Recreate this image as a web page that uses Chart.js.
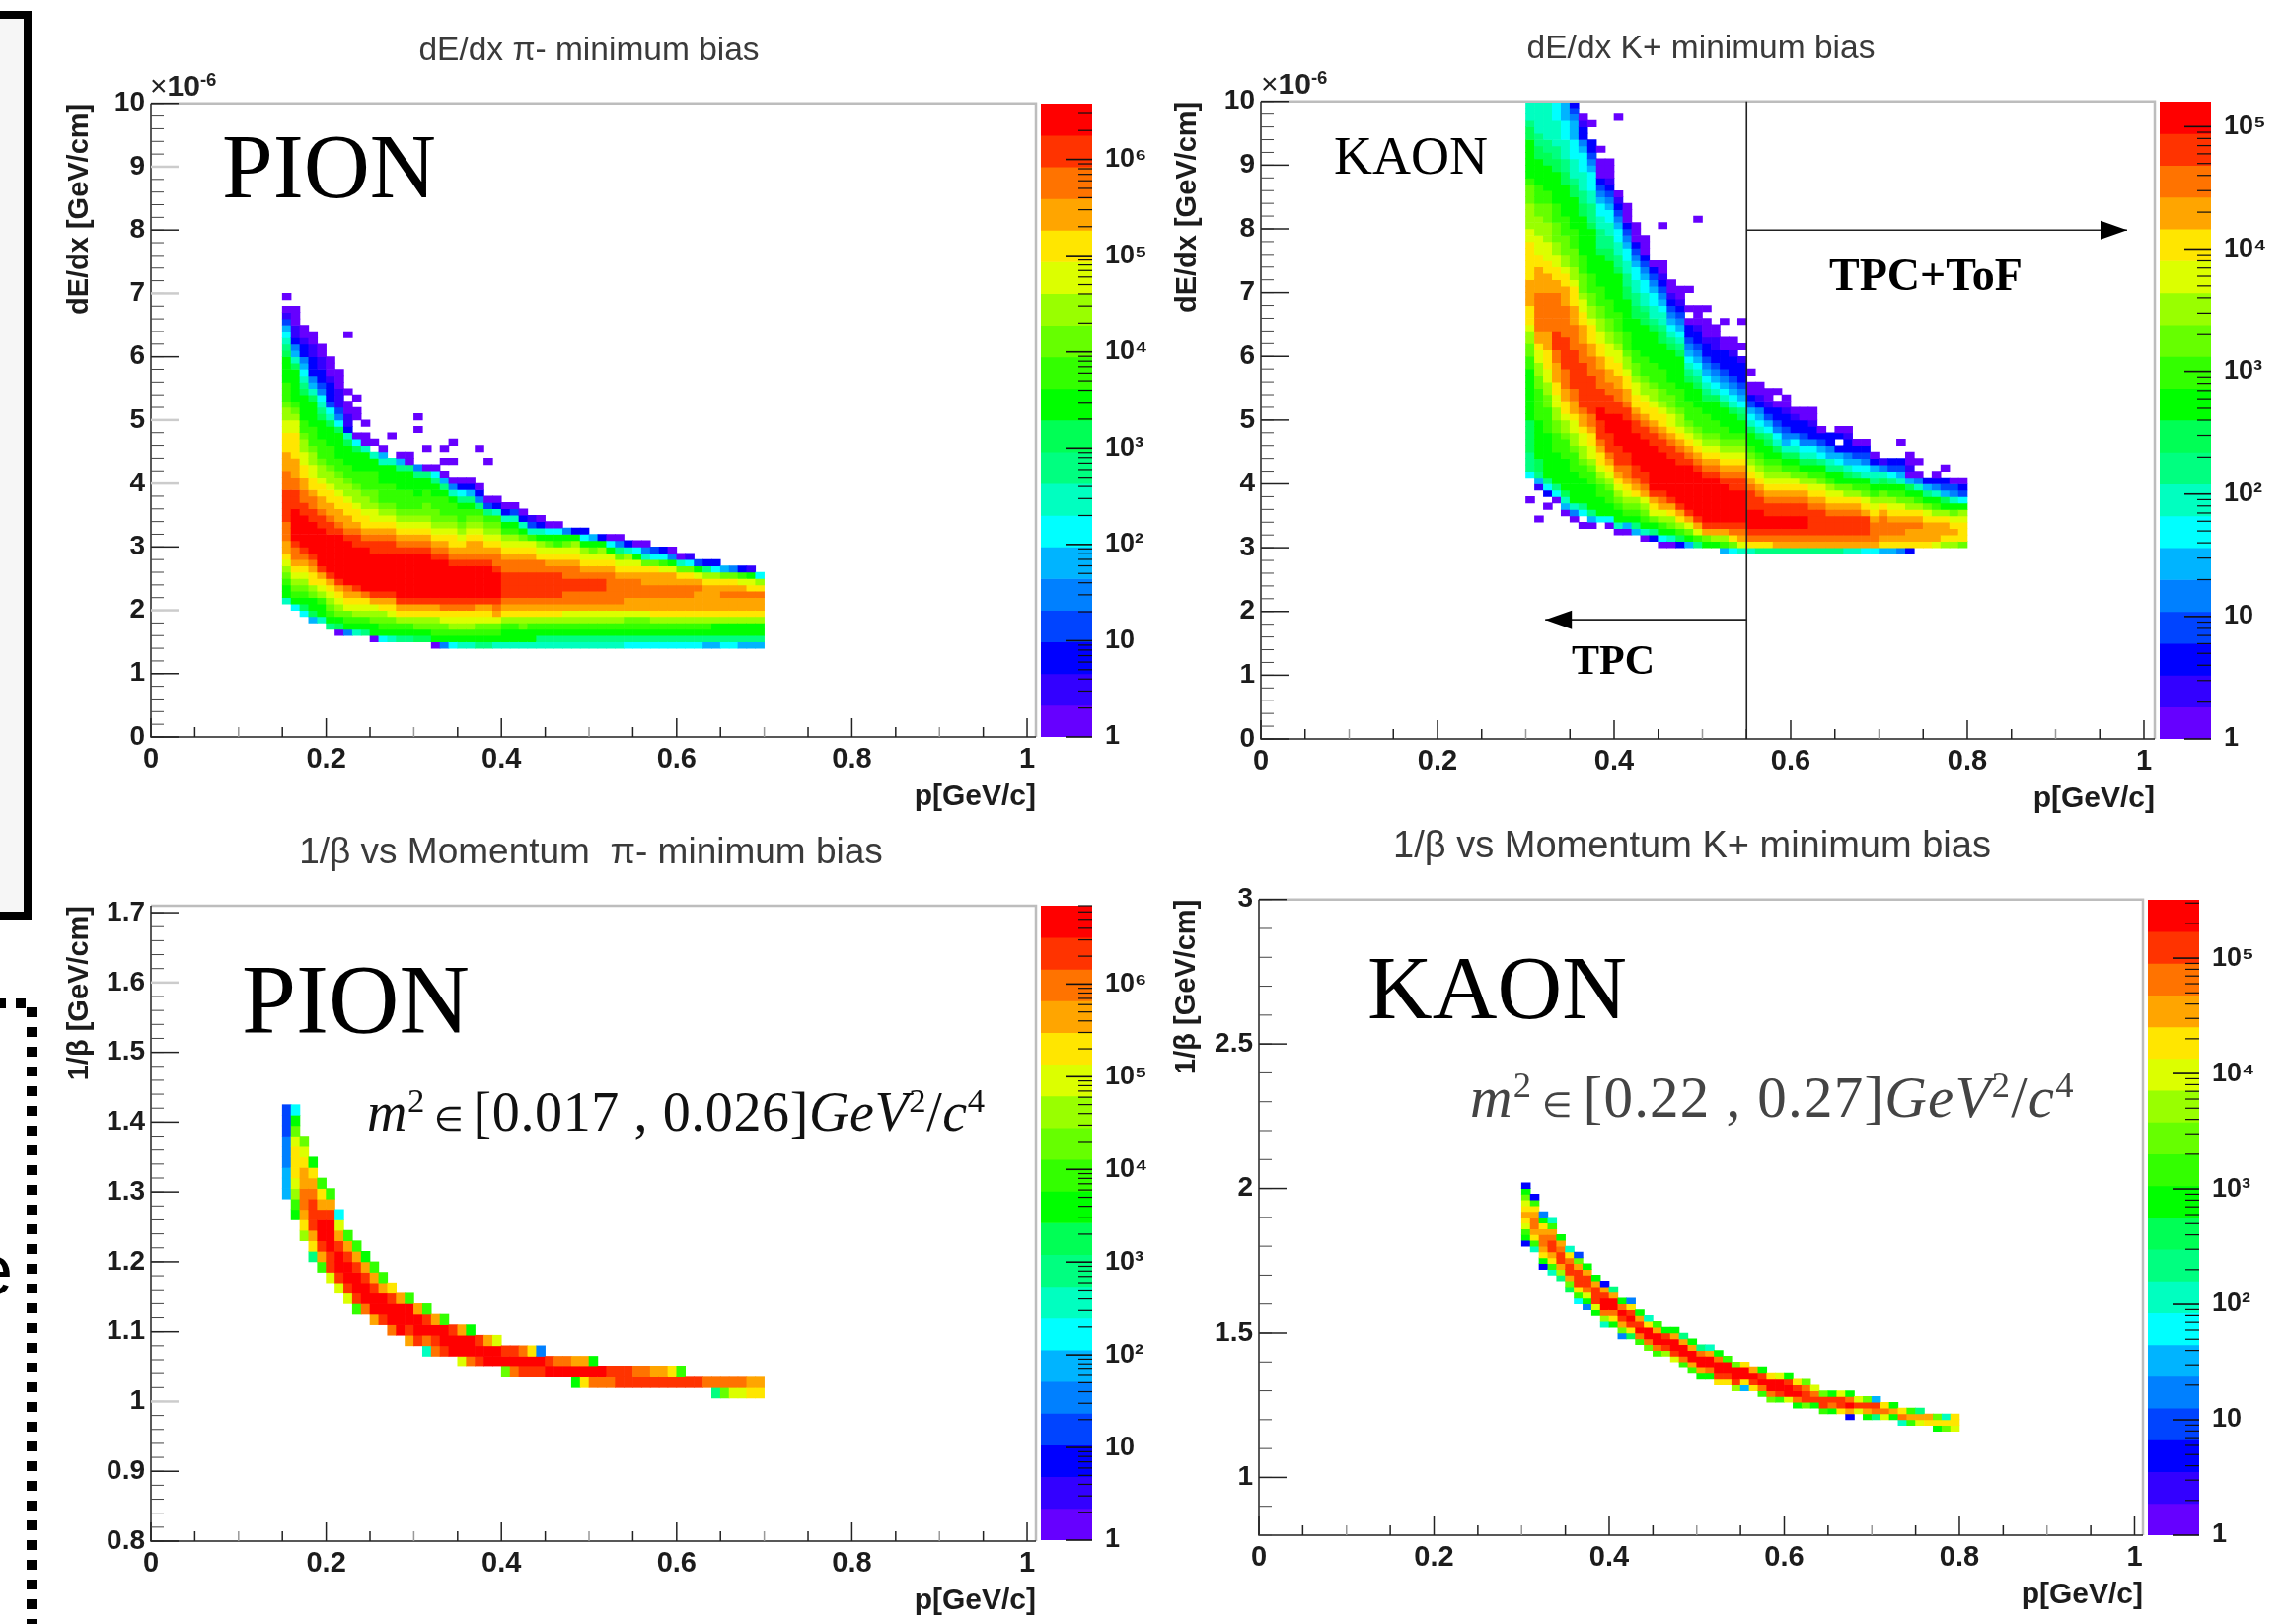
<!DOCTYPE html>
<html><head><meta charset="utf-8">
<style>
html,body{margin:0;padding:0;background:#fff;width:2317px;height:1646px;overflow:hidden}
canvas{position:absolute;filter:blur(.45px)}
.t{position:absolute;white-space:nowrap;line-height:normal}
.t sup{font-size:.62em;line-height:0;vertical-align:.55em}
</style>
<script src="https://cdn.jsdelivr.net/npm/chart.js@4/dist/chart.umd.min.js"></script>
</head><body>
<div style="position:absolute;left:-10px;top:11px;width:26px;height:905px;border:8px solid #000;background:#f6f6f6"></div>
<div style="position:absolute;left:-4px;top:1012px;width:31px;height:10px;background:repeating-linear-gradient(90deg,#000 0 10px,transparent 10px 20px)"></div>
<div style="position:absolute;left:27px;top:1021px;width:10px;height:625px;background:repeating-linear-gradient(180deg,#000 0 10px,transparent 10px 20px)"></div>
<script>
// Colour contours of the ROOT palette, lowest count to highest. Letters a..t in the cell strings index this list.
const paletteColors=["#6600ff","#3300ff","#0000ff","#0044ff","#0080ff","#00b4ff","#00ffff","#00ffc0","#00ff80","#00ff55","#00ff00","#33ff00","#66ff00","#99ff00","#dcff00","#ffe600","#ffa500","#ff7300","#ff3300","#ff0000"];
const zTickLabels=["1","10","10²","10³","10⁴","10⁵","10⁶"];
const pTickValues=[0,0.2,0.4,0.6,0.8,1];
const dedxTickValues=[0,1,2,3,4,5,6,7,8,9,10];
const pionBetaTickValues=[0.8,0.9,1,1.1,1.2,1.3,1.4,1.5,1.6,1.7];
const kaonBetaTickValues=[1,1.5,2,2.5,3];

// Each histogram: one string per momentum column, bottom to top, one letter per y bin ("." = empty bin, spaces ignored).
const pionDedxStart=[21,20,19,18,18,17,16,16,16,16,15,15,15,15,15,15,15,14,14,14,14,14,14,14,14,14,14,14,14,14,14,14,14,14,14,14,14,14,14,14,14,14,14,14,14,14,14,14,14,14,14,14,14,14,14];
const pionDedxCols=[
"hkklmnopqqrrr sssss rrr qqq ppp oo nn m lll kkkk j i h g f d b a . a",
"gklmnopqrrs ttttt sss rr qqq pppp oo n m l kkkkk j h f e c bb aaa",
"gjklmnopqrs ttttt ss rr qq pp oo nn m ll kkkk j i h g f e cc b aa",
"fjkkmnppqrs ttttt ss rr q pp oo nn m lll kkkk j h f e ccc bb aa",
"hkklnopqs tttttt ss r qq pp o nn m lll kkk j i h g e d cc bb aa",
"iklmnopqs tttttt ss r qq pp o nn m lll kkk j h g d ccc b aaa",
"ajkmnopqs ttttttt s r qq pp o nn m ll kkkk j g e d bbb aaa",
"eklmopqr ttttttt s r qq pp o nn m ll kkk j h c bb aa . a ........ a",
"hklnopqs tttttt ss r q pp o nn m ll kkk j g a .. aa . a",
"iklnopr ttttttt s r q pp o nn m lll kkk h aa . a",
"akkmnoqs tttttt ss r q p oo n mm lll kk h . a",
"gklmnpqs tttttt ss r q p o n m lll kkk h f a",
"hklmopqs tttttt ss r q p o n m lll kkk h ... a",
"iklnpqs ttttttt s r q p o n m lll kkk i f a",
"iklnpqs ttttttt s r q p o n m lll kkk i aa",
"jkmnpqs ttttttt s r q p o n m ll kkk i e ..... a . a",
"jkmnpqs ttttttt s r q p o n mm ll kk i a .. a",
"aklmnpqs tttttt s r q p o n mm ll kk i g a",
"eklmoprs tttttt s r q p o n m lll k i f a . a . a",
"gklnoprs ttttt s r q pp o n m ll k h e a .. a .. a",
"hklnoprs ttttt s r q p o n m ll k i g c a",
"hklnoprs ttttt s r qq p o n m l k i f c a",
"iklmopqs ttttt s r qq p o n m l i e c a ..... a",
"iklmopqs ttttt s r q p o n m l i d a ..... a",
"hklmoqrs tttt s rr q p o n m l h c a",
"hkklnpqrssssrrqponlkhca",
"hkklnpqrssssrrqponlkhda",
"hkkmnpqrssssrrqpomkhca",
"hkklnpqrssssrrqpolhdb",
"hiklnpqrssssrrponkhca",
"hiklnpqrssssrqpomkga",
"hiklnpqrssssrqpolkga",
"hiklnoqrrssrrqpomke",
"hiklnoqrrssrrqponkc",
"hiklnoqrrssrqponkgc",
"hiklnoqrrssrqpomkf",
"hiklnoqrrssrqponkc",
"hiklnoqrrrrrqpokga",
"hiklnoqrrrrqpomiea",
"giklmoqqrrrqponhc",
"giklmoqqrrrqpokga",
"giklmoqqrrqqpmhea",
"giklnpqqrrqqpmgd",
"giklnpqqrrqqolgc",
"giklnpqqrrqqokea",
"giklnpqqrrqpmha",
"giklnpqqrrqpmgb",
"giklnpqqqrqokd",
"fiklnpqqqqpnic",
"fikknpqqqqpngc",
"gikknpqqrqpmf",
"gikknpqqrqpme",
"fikknpqqrqolc",
"fikknpqqrpokb",
"fikknpqqrpng"];

const kaonDedxStart=[37,34,36,37,35,34,33,33,34,33,32,32,32,31,31,30,30,30,30,30,30,30,29,29,29,29,29,29,29,29,29,29,29,29,29,29,29,29,29,29,29,29,29,29,30,30,30,30,30,30];
const kaonDedxCols=[
"a ... g iii jjjjj kkkkkkkk ll mm nn o ppp qqqq pppppp oo nnnn mmm l kkkkkk jj i hhh",
"a .... b f i jj kkkkkk lllll mm nn oo p qq rrrrrr qqqq pp ooo nnn mm lll kkkk jj ii hhhhh",
"a . c g i kkkkkkk llll mm nn oo ppp qqq rrrrrr qqq pp ooo nnn mmm ll kkkk jj ii hhhhhh",
"a g i kkkkk lll mm nn oo pp qqq rr sss rrrrrr qq pp oo nn mmm lll kkkkk jj ii hhhh ggg",
"a f h j kkkkk lll m nn o pp qq rrr sssss rrrrr qqq pp o nn mmm lll kkkkk jj ii hhh ggg fff",
"a e h kkkkk lll m nn oo p qq rr ssssss rrrr qqq ppp o nn mmm lll kkkkk jj i hhh ggg fff e d c",
"a . g i kkkk ll m nn oo p qq r sssssss rrr qqq pp oo n mmm lll kkkkkk jj ii hhh ggg f e cc b a",
"a f i kkkk ll m n oo pp q rr ssssss rrr qq ppp o nn mm lll kkkkkkk j iii hh ggg f e d cc .. a",
"g kkk ll m n o pp q r sss tt sss rrr qq pp oo nn mm lll kkkkk j iii hh gg f e d c aaa . a",
"a g kk ll m n o p q r sss ttt sss rr qq pp oo nn mm lll kkkkkk jj ii hh gg f e d c b aaa",
"a h kk l m n o p q r sss ttttt ss rr qq pp oo n mm lll kkkkkk j ii hh gg f e d c b a ........... a",
"a f k l m n o p q rr ss ttttt ss r qq pp o nn m lll kkkkk jj ii hh gg f e d c aaa",
"f i k l m n p q r ss ttttt ss r q pp oo n mm ll kkkkk jj ii hh gg f e d c aaa",
"a h k l m n o q r ss ttttt ss r q pp o nn m lll kkkkk jj i hh gg f e d c aaa",
"c i k m o p q s ttttttt ss r q pp o nn m lll kkkkk j i hh gg f e d c a",
"a g k l n o q r s tttttt ss r q pp o n mm lll kkkk jj i hh g f e d c b aa ..... a",
"a h k m n p q s tttttt ss r q p oo n mm ll kkkkk j i h g f e d c b aa",
"c j l n p q s tttttt ss r q p o nn m lll kkkkk j i h g f e d c b aa",
"f k m o q s ttttttt s r q p o n m lll kkk j i h g f e d cc a . a .. a",
"i l o q s ttttttt s r q p o n m lll kkk j i h g f e d cc b aaa ............. a",
"k m q s ttttttt s r q p o n m lll kk j i h g f e d cc b aaa . a",
"k n q s ttttttt s r q p o n m ll kkk j h g f e d cc bb aa",
"f l n q s tttttt s r q p o n m ll kkk j h g f e d ccc aa .. a",
"g m p r s ttttt ss r q p o n m l kkk j h g f e d ccc b aa",
"h o q r s ttttt ss r q p o n m l kk j i g f e d ccc b . a ... a",
"h p r s ttt sss r q p o n m l kk j h g f d c aa . a",
"i p r s ttt ss r q p o n m l kk j h g f e c b aa",
"i p r s tt ss r q p o n m l kk j i g f d c b aa",
"i q r s tt ss r q p o n m l k j h g e d cc a . a",
"i q r s tt ss r q p o n l k j h f e d cc b a a",
"i q r s tt ss r q p o m l k j h g e cc b a",
"i q r s tt ss r q p n m k j h g e d cc aa",
"i q r ssss r q p o n l k j h g e cc b aa",
"i q r ssss r q p o m l k i g f d c a",
"i q r sss r q p o n l k i h f e cc",
"i q r sss r q p o m kk i g f c . c a",
"h q r sss r q p n m k j h f e cc b a",
"h q r sss r q p n l k i g f d c a",
"g q r sss q p o m l k h g e d c a",
"g q rrr q p o n l k i h f c a",
"f p q rrr q p n m k j h e b",
"f p q rr q p o n l k i g d c",
"e p q rr q p o m l k h f d c .. a",
"c p qq r q p n m k j f a b a a",
"p qq r q p n l k h e a . a",
"p qqq p o m k i f c",
"o qqq p n l k h e c a",
"n p qq p n k j f d c . a",
"n p q p o m k h e d a",
"m ppp o n k g d c a"];

const pionBetaStart=[19,17,15,13,12,11,10,9,8,8,7,7,6,6,5,5,4,4,4,4,3,3,3,3,3,2,2,2,2,2,2,2,2,1,1,1,1,1,1,1,1,1,1,1,1,1,1,1,1,0,0,0,0,0,0];
const pionBetaCols=["fff eee ddd","klnopppomkg","npqrrqqpom","ipqsssrqpk","lqsttsqpl","osstttsql","osttsqog","osttsql","lsttsql","rttsqk","qttsql","sttql","rttsp","tttq","qsttl","sttq","hrtsl","rstq","sttl","tts","ottq","rttk","sts","ttq","tto","mts","rts","str","stp","ste","ts","tr","tr","ktq","ptq","rtk","rt","rs","ss","ss","sr","sr","sq","sq","sp","sl","s","s","r","ir","mr","or","or","pq","pq"];

const kaonBetaStart=[40,39,36,35,34,32,30,29,28,26,26,24,24,23,22,21,21,20,19,18,17,17,16,16,15,15,15,14,13,13,13,12,12,12,11,11,11,10,11,10,10,10,10,9,9,9,9,8,8,8];
const kaonBetaCols=["cklopqpomkc","hlpqrrqplc","ckpqrrqpke","hlpqssrqlh","inqssrqk","jmqssrph","glpsssqmd","ekorssqk","kosssqk","hnrttsqc","kprttqi","emqstrk","jpstspe","lrtsqk","mrttph","lrttql","nstsk","osttqk","lrttqi","lqttqk","kqttri","krttqh","psttrk","psttl","nsttm","fpttp","pstq","lrtsk","mrttp","lstto","ottsk","krtsp","mssrm","ksro","lssm","krsk","psso","cqtrk","oso","kqsm","irsf","orp","kqk","hrp","lql","oqi","pq","kpm","mph","opp"];

const cellsFrom=(starts,cols,x0,dx,y0,dy)=>{
  const out=[];
  cols.forEach((s,i)=>{
    [...s.replace(/ /g,"")].forEach((ch,k)=>{
      if(ch==="."||paletteColors[ch.charCodeAt(0)-97]===undefined)return;
      const r=starts[i]+k;
      out.push({x:x0+dx*(i+.5),y:[y0+dy*r,y0+dy*(r+1)],level:ch.charCodeAt(0)-97});
    });
  });
  return out;
};
const range=(a,b,s)=>{const o=[];for(let v=a;v<=b+1e-9;v+=s)o.push(+v.toFixed(4));return o;};

const frame={id:"frame",afterDatasetsDraw(ch,_,o){
  const c=ch.ctx,a=ch.chartArea,xs=ch.scales.x,ys=ch.scales.y;
  c.save();
  c.strokeStyle="#bdbdbd";c.lineWidth=2.5;
  c.beginPath();c.moveTo(a.left,a.top);c.lineTo(a.right,a.top);c.lineTo(a.right,a.bottom);c.stroke();
  c.strokeStyle="#222";c.lineWidth=1.5;
  c.beginPath();c.moveTo(a.left,a.top);c.lineTo(a.left,a.bottom);c.lineTo(a.right,a.bottom);c.stroke();
  c.lineWidth=1.5;
  range(0,1,.05).forEach(v=>{
    const maj=pTickValues.includes(v),x=xs.getPixelForValue(v);
    c.strokeStyle=(Math.round(v*20)%2===0&&!maj)?"#999":"#222";
    c.beginPath();c.moveTo(x,a.bottom);c.lineTo(x,a.bottom-(maj?19:10));c.stroke();
  });
  o.yMinor.forEach(v=>{const y=ys.getPixelForValue(v);c.strokeStyle="#444";c.lineWidth=1;c.beginPath();c.moveTo(a.left,y);c.lineTo(a.left+13,y);c.stroke();});
  o.yMajor.forEach(v=>{const y=ys.getPixelForValue(v);const f=o.faded.includes(v);c.strokeStyle=f?"#ccc":"#222";c.lineWidth=f?2.5:1.5;c.beginPath();c.moveTo(a.left,y);c.lineTo(a.left+28,y);c.stroke();});
  if(o.guides){
    c.strokeStyle="#222";c.fillStyle="#000";c.lineWidth=1.6;
    const X=o.guides.cutP,px=xs.getPixelForValue(X);
    c.beginPath();c.moveTo(px,a.top);c.lineTo(px,a.bottom);c.stroke();
    o.guides.arrows.forEach(g=>{
      const x1=xs.getPixelForValue(g.p1),y=ys.getPixelForValue(g.y),d=x1>px?-1:1;
      c.beginPath();c.moveTo(px,y);c.lineTo(x1,y);c.stroke();
      c.beginPath();c.moveTo(x1,y);c.lineTo(x1+d*27,y-9.5);c.lineTo(x1+d*27,y+9.5);c.closePath();c.fill();
    });
  }
  c.restore();
}};
const barTicks={id:"barTicks",afterDatasetsDraw(ch,_,o){
  const c=ch.ctx,a=ch.chartArea,ys=ch.scales.y;
  c.save();c.strokeStyle="#111";
  ys.ticks.forEach(t=>{
    const y=ys.getPixelForValue(t.value),m=t.isMajor;
    c.lineWidth=m?1.6:1.2;
    c.beginPath();c.moveTo(a.right,y);c.lineTo(a.right-(m?27:14),y);c.stroke();
  });
  c.restore();
}};

function addCanvas(l,t,w,h){const e=document.createElement("canvas");e.width=w;e.height=h;e.style.left=l+"px";e.style.top=t+"px";e.style.width=w+"px";e.style.height=h+"px";document.body.appendChild(e);return e;}
const sans='"Liberation Sans",Arial,sans-serif',serif='"Liberation Serif","Times New Roman",serif';

function panel(g){
  const halfW=540,CL=g.titleX-halfW,Y0=g.titleY-g.titleSize/2-2,H=84,W=halfW*2;
  const canvH=Math.round(g.B+H-Y0);
  const xTitleSize=30,rightGap=CL+W-g.R;
  new Chart(addCanvas(CL,Y0,W,canvH),{
    type:"bar",
    data:{datasets:[{data:g.cells,backgroundColor:c=>paletteColors[c.raw.level],borderWidth:0,barThickness:g.cellPx}]},
    plugins:[frame],
    options:{
      responsive:false,animation:false,devicePixelRatio:1,
      layout:{autoPadding:false,padding:0},
      plugins:{
        legend:{display:false},tooltip:{enabled:false},
        title:{display:true,text:g.title,color:"#3a3a3a",font:{family:sans,size:g.titleSize,weight:"normal",lineHeight:1},padding:{top:2,bottom:g.T-Y0-g.titleSize-2}},
        frame:{yMajor:g.yTicks,yMinor:g.yMinor,faded:g.faded,guides:g.guides}
      },
      scales:{
        x:{type:"linear",offset:false,min:0,max:g.xMax,grid:{display:false,drawTicks:false},border:{display:false},
          afterBuildTicks:s=>{s.ticks=pTickValues.map(v=>({value:v}));},
          afterFit:s=>{s.height=H;},
          ticks:{autoSkip:false,maxRotation:0,padding:6,color:"#1c1c1c",font:{family:sans,size:29,weight:"bold"},callback:v=>String(v)},
          title:{display:true,text:"p[GeV/c]",align:"end",color:"#1c1c1c",font:{family:sans,size:xTitleSize,weight:"bold",lineHeight:1},padding:{top:0,bottom:H-61-xTitleSize/2}}},
        y:{type:"linear",min:g.yMin,max:g.yMax,grid:{display:false,drawTicks:false},border:{display:false},
          afterBuildTicks:s=>{s.ticks=g.yTicks.map(v=>({value:v}));},
          afterFit:s=>{s.width=g.L-CL;},
          ticks:{autoSkip:false,padding:6,color:"#1c1c1c",font:{family:sans,size:28,weight:"bold"},callback:v=>String(v)},
          title:{display:true,text:g.yTitle,align:"end",color:"#1c1c1c",font:{family:sans,size:29,weight:"bold",lineHeight:1},padding:{top:g.yTitleX-CL-14.5,bottom:0}}},
        gap:{axis:"y",position:"right",display:true,min:0,max:1,grid:{display:false,drawTicks:false},border:{display:false},ticks:{display:false},afterFit:s=>{s.width=rightGap;}}
      }
    }
  });
  // palette bar
  const pad=45,bw=g.barR-g.barL,zTop=Math.log10(g.zMax);
  const zTicks=[];
  for(let e=0;e<=Math.floor(zTop);e++){for(let m=1;m<=9;m++){const v=m*10**e;if(v<=g.zMax)zTicks.push({value:v,isMajor:m===1});}}
  const bars=paletteColors.map((col,i)=>({x:.5,y:[10**(zTop*i/20),10**(zTop*(i+1)/20)]}));
  new Chart(addCanvas(g.barL,g.T-pad,bw+110,g.B-g.T+2*pad),{
    type:"bar",
    data:{datasets:[{data:bars,backgroundColor:paletteColors,borderWidth:0,barThickness:bw}]},
    plugins:[barTicks],
    options:{
      responsive:false,animation:false,devicePixelRatio:1,
      layout:{autoPadding:false,padding:{left:0,right:0,top:pad,bottom:pad}},
      plugins:{legend:{display:false},tooltip:{enabled:false}},
      scales:{
        x:{type:"linear",offset:false,min:0,max:1,display:false},
        y:{type:"logarithmic",position:"right",min:1,max:g.zMax,grid:{display:false,drawTicks:false},border:{display:false},
          afterBuildTicks:s=>{s.ticks=zTicks.map(t=>({...t}));},
          afterFit:s=>{s.width=110;},
          ticks:{autoSkip:false,padding:13,color:"#1c1c1c",font:{family:sans,size:27,weight:"bold"},
            callback:v=>{const e=Math.log10(v);return Math.abs(e-Math.round(e))<1e-6?zTickLabels[Math.round(e)]:"";}}}
      }
    }
  });
}

panel({title:"dE/dx π- minimum bias",titleX:597,titleY:52,titleSize:33.5,L:153,R:1050,T:105,B:747,xMax:1.0101,yMin:0,yMax:10,
  cells:cellsFrom(pionDedxStart,pionDedxCols,.15,.01,0,.1),cellPx:8.88,yTicks:dedxTickValues,yMinor:range(0,10,.2),faded:[9,7,5,4,2],
  yTitle:"dE/dx [GeV/cm]",yTitleX:81,barL:1055,barR:1107,zMax:3.8e6});
panel({title:"dE/dx K+ minimum bias",titleX:1724,titleY:50,titleSize:33.5,L:1278,R:2184,T:103,B:749,xMax:1.0123,yMin:0,yMax:10,
  cells:cellsFrom(kaonDedxStart,kaonDedxCols,.30,.01,0,.1),cellPx:8.95,yTicks:dedxTickValues,yMinor:range(0,10,.2),faded:[],
  guides:{cutP:.55,arrows:[{p1:.981,y:7.98},{p1:.322,y:1.87}]},
  yTitle:"dE/dx [GeV/cm]",yTitleX:1204,barL:2189,barR:2241,zMax:1.6e5});
panel({title:"1/β vs Momentum  π- minimum bias",titleX:599,titleY:864,titleSize:37,L:153,R:1050,T:917.5,B:1561,xMax:1.0101,yMin:.8,yMax:1.71,
  cells:cellsFrom(pionBetaStart,pionBetaCols,.15,.01,1.005,.015),cellPx:8.88,yTicks:pionBetaTickValues,yMinor:range(.8,1.7,.02),faded:[1.6,1],
  yTitle:"1/β [GeV/cm]",yTitleX:81,barL:1055,barR:1107,zMax:7e6});
panel({title:"1/β vs Momentum K+ minimum bias",titleX:1715,titleY:859,titleSize:38,L:1276,R:2172,T:911.7,B:1556,xMax:1.0096,yMin:.8,yMax:3,
  cells:cellsFrom(kaonBetaStart,kaonBetaCols,.30,.01,1,.02),cellPx:8.87,yTicks:kaonBetaTickValues,yMinor:range(.8,3,.1),faded:[],
  yTitle:"1/β [GeV/cm]",yTitleX:1203,barL:2177,barR:2229,zMax:3.2e5});

const overlayLabels=[
 {html:"PION",x:225,y:198,size:93,font:serif,color:"#000"},
 {html:"KAON",x:1352,y:175,size:54,font:serif,color:"#000"},
 {html:"TPC+ToF",x:1854,y:293,size:46,font:serif,color:"#000",bold:1},
 {html:"TPC",x:1593,y:682,size:42,font:serif,color:"#000",bold:1},
 {html:"PION",x:245,y:1044,size:99,font:serif,color:"#000"},
 {html:"KAON",x:1386,y:1030,size:91,font:serif,color:"#000"},
 {html:"<i>m</i><sup>2</sup><span style='font-size:.6em'> ∈ </span>[0.017 , 0.026]<i>GeV</i><sup>2</sup>/<i>c</i><sup>4</sup>",x:372,y:1145,size:56,font:serif,color:"#111",ls:.6},
 {html:"<i>m</i><sup>2</sup><span style='font-size:.6em'> ∈ </span>[0.22 , 0.27]<i>GeV</i><sup>2</sup>/<i>c</i><sup>4</sup>",x:1490,y:1131,size:59,font:serif,color:"#444",ls:1.2},
 {html:"<span style='font-weight:normal'>×</span>10<sup>-6</sup>",x:152,y:97,size:30,font:sans,color:"#222",bold:1},
 {html:"<span style='font-weight:normal'>×</span>10<sup>-6</sup>",x:1278,y:95,size:30,font:sans,color:"#222",bold:1},
 {html:"e",x:-27,y:1311,size:72,font:sans,color:"#000"}
];
overlayLabels.forEach(o=>{
  const d=document.createElement("div");d.className="t";d.innerHTML=o.html;
  const asc=o.font===serif?.891:.905;
  d.style.cssText=`left:${o.x}px;top:${o.y-asc*o.size}px;font:${o.bold?"bold ":""}${o.size}px ${o.font};color:${o.color};letter-spacing:${o.ls||0}px`;
  document.body.appendChild(d);
});
</script>
</body></html>
